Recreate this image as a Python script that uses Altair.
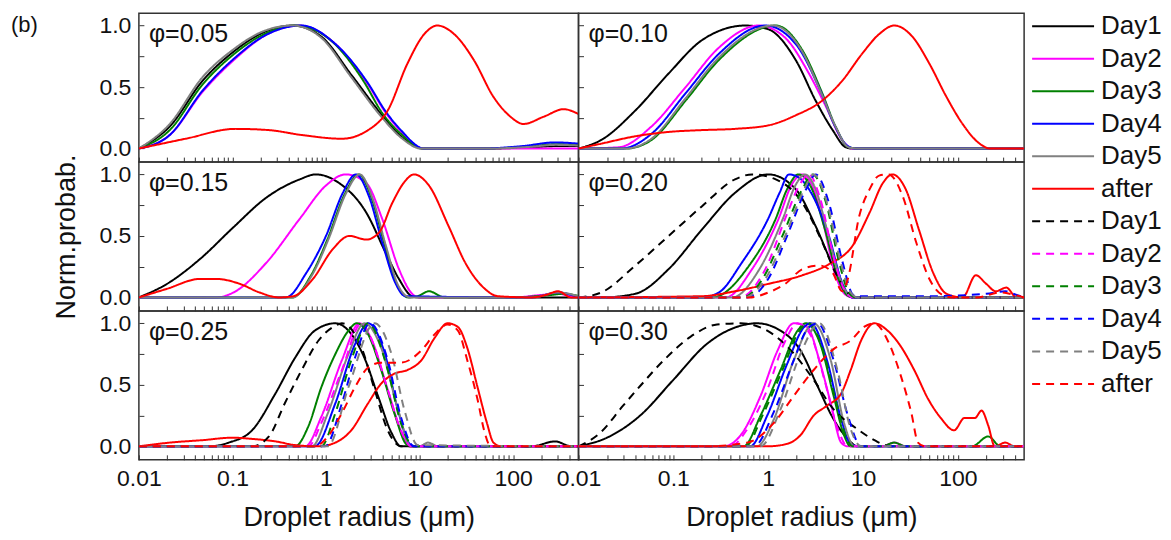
import altair as alt
import pandas as pd

FONT = "Liberation Sans"
SERIES = ["Day1", "Day2", "Day3", "Day4", "Day5", "after"]
COLORS = ["#000000", "#ff00ff", "#008000", "#0000ff", "#808080", "#ff0000"]
KEYS = ["s%02d" % i for i in range(1, 13)]
DASHES = [[1, 0]] * 6 + [[8, 6]] * 6
PHI = ["0.05", "0.10", "0.15", "0.20", "0.25", "0.30"]
X_TITLE = "Droplet radius (μm)"
Y_TITLE = "Norm.probab."
PANEL_TAG = "(b)"
X_DOMAIN = [0.01, 500]
Y_DOMAIN = [-0.11, 1.1]
Y_TICKS = [0, 0.25, 0.5, 0.75, 1.0]
X_TICKS = [round(m * 10 ** k, 6) for k in range(-2, 2) for m in range(1, 10)] + [100, 200, 300, 400]

# each curve: (log10 of droplet radius in um, normalised probability)
# phi = 0.05
P05_DAY1 = ([-2, -1.67, -1.32, -1.0, -0.68, -0.36, -0.05, 0.27, 0.59, 0.8, 1.05, 1.7, 2.2, 2.45, 2.7],
            [0, 0.18, 0.55, 0.78, 0.94, 1.0, 0.91, 0.6, 0.28, 0.1, 0.0, 0, 0.01, 0.02, 0.02])
P05_DAY2 = ([-2, -1.67, -1.32, -0.97, -0.65, -0.28, 0.1, 0.45, 0.63, 0.8, 1.05, 2.7],
            [0, 0.11, 0.46, 0.73, 0.92, 1.0, 0.85, 0.52, 0.3, 0.14, 0, 0])
P05_DAY3 = ([-2, -1.67, -1.32, -0.98, -0.66, -0.32, 0.05, 0.4, 0.6, 0.8, 1.03, 1.7, 2.2, 2.45, 2.7],
            [0, 0.15, 0.52, 0.77, 0.93, 1.0, 0.88, 0.55, 0.29, 0.12, 0.0, 0, 0.02, 0.035, 0.03])
P05_DAY4 = ([-2, -1.67, -1.32, -0.97, -0.65, -0.26, 0.1, 0.45, 0.63, 0.8, 1.05, 1.65, 2.1, 2.45, 2.7],
            [0, 0.11, 0.47, 0.74, 0.92, 1.0, 0.85, 0.53, 0.31, 0.15, 0.0, 0, 0.02, 0.05, 0.04])
P05_DAY5 = ([-2, -1.67, -1.32, -1.0, -0.68, -0.36, -0.05, 0.27, 0.59, 0.8, 1.02, 1.7, 2.2, 2.45, 2.7],
            [0, 0.2, 0.58, 0.8, 0.95, 1.0, 0.9, 0.58, 0.26, 0.09, 0.0, 0, 0.015, 0.03, 0.025])
P05_AFTER = ([-2, -1.5, -0.97, -0.61, -0.26, 0.17, 0.45, 0.66, 0.87, 1.05, 1.19, 1.37, 1.58, 1.79, 1.97, 2.11, 2.33, 2.54, 2.7],
             [0, 0.08, 0.16, 0.15, 0.11, 0.08, 0.15, 0.31, 0.69, 0.93, 1.0, 0.93, 0.72, 0.42, 0.26, 0.2, 0.26, 0.32, 0.28])

# phi = 0.10
P10_DAY1 = ([-2, -1.76, -1.40, -1.05, -0.70, -0.24, 0.0, 0.29, 0.50, 0.68, 0.82, 0.89, 2.7],
            [0, 0.07, 0.31, 0.61, 0.88, 1.0, 0.97, 0.72, 0.39, 0.15, 0.01, 0, 0])
P10_DAY2 = ([-2, -1.58, -1.23, -0.87, -0.52, -0.1, 0.18, 0.43, 0.61, 0.78, 0.89, 2.7],
            [0, 0.01, 0.18, 0.5, 0.82, 1.0, 0.9, 0.61, 0.34, 0.07, 0, 0])
P10_DAY3 = ([-2, -1.5, -1.23, -0.87, -0.52, 0.08, 0.36, 0.57, 0.71, 0.85, 0.96, 2.7],
            [0, 0.0, 0.07, 0.39, 0.72, 1.0, 0.8, 0.45, 0.18, 0.01, 0, 0])
P10_DAY4 = ([-2, -1.55, -1.23, -0.87, -0.52, -0.03, 0.3, 0.55, 0.7, 0.84, 0.93, 2.7],
            [0, 0.0, 0.12, 0.45, 0.77, 1.0, 0.84, 0.47, 0.19, 0.02, 0, 0])
P10_DAY5 = ([-2, -1.5, -1.23, -0.87, -0.52, 0.05, 0.35, 0.56, 0.71, 0.85, 0.95, 2.7],
            [0, 0, 0.08, 0.41, 0.74, 1.0, 0.8, 0.45, 0.18, 0.01, 0, 0])
P10_AFTER = ([-2, -1.76, -1.40, -1.05, -0.70, -0.35, 0.01, 0.29, 0.57, 0.78, 0.99, 1.17, 1.33, 1.52, 1.70, 1.88, 2.05, 2.23, 2.34, 2.7],
             [0, 0.04, 0.1, 0.135, 0.15, 0.16, 0.19, 0.27, 0.39, 0.55, 0.77, 0.93, 1.0, 0.91, 0.69, 0.42, 0.2, 0.04, 0, 0])

# phi = 0.15
P15_DAY1 = ([-2, -1.70, -1.35, -0.99, -0.64, -0.28, -0.11, 0.14, 0.43, 0.64, 0.78, 0.92, 1.0, 2.7],
            [0, 0.11, 0.31, 0.57, 0.81, 0.96, 1.0, 0.93, 0.69, 0.36, 0.15, 0.01, 0, 0])
P15_DAY2 = ([-2, -1.17, -0.99, -0.64, -0.28, 0.0, 0.21, 0.43, 0.60, 0.78, 0.92, 0.99, 2.0, 2.3, 2.48, 2.62, 2.7],
            [0, 0, 0.04, 0.28, 0.64, 0.91, 1.0, 0.93, 0.64, 0.23, 0.03, 0, 0, 0.02, 0.03, 0.01, 0])
P15_DAY3 = ([-2, -0.36, -0.16, 0.02, 0.2, 0.35, 0.49, 0.63, 0.76, 0.88, 0.98, 1.10, 1.27, 2.0, 2.4, 2.55, 2.7],
            [0, 0, 0.18, 0.48, 0.84, 1.0, 0.8, 0.42, 0.1, 0, 0.01, 0.05, 0, 0, 0.02, 0.03, 0.01])
P15_DAY4 = ([-2, -0.43, -0.21, 0.0, 0.18, 0.32, 0.46, 0.60, 0.74, 0.85, 2.2, 2.48, 2.7],
            [0, 0, 0.2, 0.5, 0.85, 1.0, 0.82, 0.45, 0.12, 0.01, 0, 0.04, 0])
P15_DAY5 = ([-2, -0.36, -0.15, 0.03, 0.21, 0.36, 0.5, 0.64, 0.77, 0.9, 2.2, 2.48, 2.7],
            [0, 0, 0.18, 0.48, 0.84, 1.0, 0.8, 0.42, 0.1, 0, 0, 0.04, 0.01])
P15_AFTER = ([-2, -1.70, -1.35, -1.17, -0.92, -0.71, -0.50, -0.35, -0.14, 0.07, 0.25, 0.43, 0.57, 0.71, 0.85, 0.94, 1.10, 1.31, 1.49, 1.67, 1.84, 2.2, 2.35, 2.48, 2.62, 2.7],
             [0, 0.07, 0.15, 0.15, 0.11, 0.04, 0, 0.01, 0.15, 0.39, 0.5, 0.47, 0.53, 0.77, 0.95, 1.0, 0.91, 0.58, 0.28, 0.09, 0.01, 0, 0.02, 0.05, 0, 0])

# phi = 0.20
P20_DAY1 = ([-2, -1.76, -1.40, -1.05, -0.70, -0.35, 0.0, 0.29, 0.50, 0.68, 0.82, 0.89, 2.7],
            [0, 0, 0.03, 0.23, 0.55, 0.85, 1.0, 0.88, 0.58, 0.26, 0.04, 0, 0])
P20_DAY2 = ([-2, -0.45, -0.17, 0.11, 0.25, 0.36, 0.47, 0.57, 0.71, 0.82, 0.9, 2.7],
            [0, 0, 0.23, 0.64, 0.92, 1.0, 0.9, 0.64, 0.18, 0.02, 0, 0])
P20_DAY3 = ([-2, -0.59, -0.2, 0.08, 0.2, 0.32, 0.45, 0.6, 0.74, 0.85, 0.92, 2.7],
            [0, 0, 0.26, 0.64, 0.88, 1.0, 0.9, 0.55, 0.15, 0.01, 0, 0])
P20_DAY4 = ([-2, -0.70, -0.52, -0.28, 0.0, 0.12, 0.22, 0.33, 0.43, 0.64, 0.78, 0.89, 2.7],
            [0, 0, 0.04, 0.28, 0.64, 0.85, 1.0, 0.97, 0.88, 0.5, 0.12, 0, 0])
P20_DAY5 = ([-2, -0.38, -0.1, 0.16, 0.28, 0.39, 0.5, 0.62, 0.76, 0.87, 0.95, 2.7],
            [0, 0, 0.22, 0.65, 0.9, 1.0, 0.88, 0.55, 0.15, 0.01, 0, 0])
P20_AFTER = ([-2, -0.70, -0.35, 0.0, 0.36, 0.64, 0.89, 1.07, 1.21, 1.31, 1.45, 1.59, 1.74, 1.88, 2.05, 2.19, 2.30, 2.40, 2.51, 2.62, 2.7],
             [0, 0.01, 0.05, 0.11, 0.18, 0.27, 0.42, 0.69, 0.93, 1.0, 0.88, 0.55, 0.2, 0.03, 0, 0.18, 0.11, 0.05, 0.08, 0, 0])
P20_DAY1_D = ([-2, -1.76, -1.40, -1.05, -0.70, -0.35, -0.17, 0.08, 0.36, 0.57, 0.71, 0.85, 0.92, 2.7],
              [0, 0.04, 0.26, 0.5, 0.74, 0.96, 1.0, 0.96, 0.77, 0.45, 0.2, 0.03, 0, 0])
P20_DAY2_D = ([-2, -0.3, -0.05, 0.2, 0.32, 0.43, 0.55, 0.7, 0.82, 0.9, 2.7],
              [0, 0, 0.2, 0.68, 0.9, 1.0, 0.8, 0.3, 0.04, 0, 0])
P20_DAY3_D = ([-2, -0.27, -0.06, 0.15, 0.36, 0.47, 0.61, 0.75, 0.85, 0.92, 2.7],
              [0, 0, 0.15, 0.5, 0.88, 1.0, 0.77, 0.28, 0.04, 0, 0])
P20_DAY4_D = ([-2, -0.22, 0.0, 0.2, 0.4, 0.5, 0.64, 0.78, 0.9, 0.99, 1.7, 2.3, 2.5, 2.62, 2.7],
              [0, 0, 0.15, 0.5, 0.88, 1.0, 0.77, 0.3, 0.02, 0.01, 0.01, 0.03, 0.05, 0.02, 0])
P20_DAY5_D = ([-2, -0.25, -0.03, 0.18, 0.38, 0.48, 0.62, 0.76, 0.87, 0.95, 2.7],
              [0, 0, 0.15, 0.5, 0.88, 1.0, 0.77, 0.3, 0.04, 0, 0])
P20_AFTER_D = ([-2, -0.2, 0.0, 0.18, 0.36, 0.54, 0.68, 0.78, 0.84, 0.96, 1.07, 1.17, 1.27, 1.42, 1.56, 1.70, 1.84, 1.95, 2.2, 2.45, 2.6, 2.7],
               [0, 0, 0.04, 0.11, 0.23, 0.26, 0.2, 0.05, 0.15, 0.66, 0.88, 0.99, 1.0, 0.82, 0.45, 0.15, 0.02, 0, 0, 0.04, 0.02, 0])

# phi = 0.25
P25_DAY1 = ([-2, -1.25, -1.04, -0.79, -0.54, -0.33, -0.12, 0.1, 0.24, 0.41, 0.56, 0.70, 0.80, 2.2, 2.45, 2.62, 2.7],
            [0, 0, 0.03, 0.13, 0.43, 0.72, 0.94, 1.0, 0.94, 0.72, 0.4, 0.11, 0, 0, 0.04, 0, 0])
P25_DAY2 = ([-2, -0.22, -0.05, 0.17, 0.36, 0.48, 0.66, 0.80, 0.91, 2.7],
            [0, 0, 0.24, 0.7, 1.0, 0.88, 0.46, 0.13, 0, 0])
P25_DAY3 = ([-2, -0.33, -0.19, -0.05, 0.1, 0.24, 0.33, 0.45, 0.59, 0.73, 0.87, 0.94, 2.7],
            [0, 0, 0.16, 0.48, 0.75, 0.94, 1.0, 0.91, 0.62, 0.27, 0.01, 0, 0])
P25_DAY4 = ([-2, -0.12, 0.1, 0.31, 0.45, 0.63, 0.77, 0.91, 0.98, 2.7],
            [0, 0, 0.35, 0.83, 1.0, 0.75, 0.29, 0.01, 0, 0])
P25_DAY5 = ([-2, -0.15, 0.02, 0.24, 0.41, 0.59, 0.77, 0.91, 1.0, 1.09, 1.2, 2.7],
            [0, 0, 0.27, 0.75, 1.0, 0.8, 0.3, 0, 0, 0.03, 0, 0])
P25_AFTER = ([-2, -1.67, -1.32, -1.0, -0.79, -0.54, -0.33, -0.08, 0.1, 0.27, 0.45, 0.59, 0.73, 0.87, 1.02, 1.16, 1.30, 1.41, 1.51, 1.62, 1.72, 1.79, 1.87, 2.7],
             [0, 0.03, 0.05, 0.07, 0.06, 0.04, 0.01, 0, 0.03, 0.13, 0.35, 0.51, 0.59, 0.62, 0.7, 0.88, 1.0, 0.97, 0.8, 0.48, 0.19, 0.03, 0, 0])
P25_DAY1_D = ([-2, -0.79, -0.61, -0.44, -0.26, -0.08, 0.1, 0.17, 0.38, 0.52, 0.66, 0.80, 2.7],
              [0, 0, 0.08, 0.35, 0.62, 0.86, 0.98, 1.0, 0.8, 0.46, 0.13, 0, 0])
P25_DAY2_D = ([-2, -0.19, -0.05, 0.17, 0.38, 0.48, 0.66, 0.80, 0.91, 2.7],
              [0, 0, 0.19, 0.62, 1.0, 0.88, 0.46, 0.13, 0, 0])
P25_DAY3_D = ([-2, -0.05, 0.1, 0.27, 0.45, 0.66, 0.80, 0.94, 2.7],
              [0, 0, 0.27, 0.7, 1.0, 0.62, 0.19, 0, 0])
P25_DAY4_D = ([-2, -0.01, 0.17, 0.31, 0.47, 0.66, 0.80, 0.94, 2.7],
              [0, 0, 0.35, 0.72, 1.0, 0.7, 0.24, 0, 0])
P25_DAY5_D = ([-2, 0.02, 0.24, 0.52, 0.70, 0.84, 0.98, 2.7],
              [0, 0, 0.48, 1.0, 0.75, 0.29, 0.01, 0])
P25_AFTER_D = ([-2, -0.12, 0.02, 0.17, 0.31, 0.45, 0.59, 0.80, 1.02, 1.16, 1.30, 1.41, 1.51, 1.62, 1.69, 1.76, 2.7],
               [0, 0, 0.08, 0.27, 0.48, 0.64, 0.68, 0.68, 0.78, 0.91, 0.99, 0.94, 0.7, 0.38, 0.13, 0, 0])

# phi = 0.30
P30_DAY1 = ([-2, -1.70, -1.35, -1.0, -0.65, -0.29, -0.12, 0.13, 0.34, 0.52, 0.69, 0.84, 0.94, 2.7],
            [0, 0.07, 0.25, 0.54, 0.83, 0.98, 1.0, 0.94, 0.78, 0.49, 0.22, 0.06, 0, 0])
P30_DAY2 = ([-2, -0.47, -0.29, -0.08, 0.1, 0.27, 0.41, 0.55, 0.66, 0.77, 0.84, 1.2, 1.33, 1.45, 2.7],
            [0, 0, 0.09, 0.41, 0.78, 1.0, 0.97, 0.67, 0.35, 0.03, 0, 0, 0.03, 0, 0])
P30_DAY3 = ([-2, -0.26, -0.08, 0.13, 0.31, 0.40, 0.55, 0.69, 0.80, 0.87, 1.2, 1.33, 1.45, 2.15, 2.32, 2.45, 2.7],
            [0, 0, 0.25, 0.62, 0.94, 1.0, 0.83, 0.41, 0.09, 0, 0, 0.03, 0, 0, 0.08, 0, 0])
P30_DAY4 = ([-2, -0.19, -0.01, 0.2, 0.38, 0.45, 0.62, 0.77, 0.87, 0.95, 2.7],
            [0, 0, 0.25, 0.67, 0.97, 1.0, 0.7, 0.22, 0.02, 0, 0])
P30_DAY5 = ([-2, -0.12, 0.06, 0.27, 0.48, 0.66, 0.80, 0.91, 2.7],
            [0, 0, 0.22, 0.7, 1.0, 0.7, 0.19, 0, 0])
P30_AFTER = ([-2, 0.0, 0.2, 0.34, 0.48, 0.62, 0.77, 0.87, 0.98, 1.12, 1.26, 1.40, 1.54, 1.69, 1.82, 1.96, 2.07, 2.18, 2.25, 2.32, 2.39, 2.5, 2.6, 2.7],
             [0, 0, 0.02, 0.09, 0.25, 0.33, 0.43, 0.62, 0.86, 1.0, 0.94, 0.81, 0.62, 0.38, 0.23, 0.13, 0.23, 0.23, 0.29, 0.17, 0, 0.03, 0, 0])
P30_DAY1_D = ([-2, -1.77, -1.53, -1.35, -1.10, -0.82, -0.54, -0.29, -0.01, 0.24, 0.48, 0.69, 0.94, 1.12, 1.29, 2.7],
              [0, 0.11, 0.33, 0.49, 0.7, 0.89, 0.99, 1.0, 0.94, 0.78, 0.54, 0.3, 0.14, 0.05, 0, 0])
P30_DAY2_D = ([-2, -0.4, -0.22, -0.01, 0.17, 0.31, 0.45, 0.59, 0.73, 0.84, 2.7],
              [0, 0, 0.14, 0.46, 0.84, 1.0, 0.9, 0.55, 0.15, 0, 0])
P30_DAY3_D = ([-2, -0.24, -0.06, 0.15, 0.33, 0.42, 0.57, 0.71, 0.82, 0.89, 2.7],
              [0, 0, 0.25, 0.62, 0.94, 1.0, 0.8, 0.38, 0.08, 0, 0])
P30_DAY4_D = ([-2, -0.15, 0.06, 0.27, 0.41, 0.52, 0.69, 0.84, 0.98, 2.7],
              [0, 0, 0.28, 0.7, 0.95, 1.0, 0.7, 0.25, 0, 0])
P30_DAY5_D = ([-2, -0.08, 0.13, 0.34, 0.54, 0.73, 0.87, 0.98, 2.7],
              [0, 0, 0.3, 0.75, 1.0, 0.62, 0.14, 0, 0])
P30_AFTER_D = ([-2, -0.65, -0.22, 0.06, 0.27, 0.48, 0.69, 0.87, 1.01, 1.12, 1.26, 1.40, 1.51, 1.58, 1.65, 2.7],
               [0, 0, 0.03, 0.19, 0.41, 0.62, 0.79, 0.86, 0.97, 1.0, 0.86, 0.57, 0.27, 0.03, 0, 0])

PANEL_SOLID = [
    [P05_DAY1, P05_DAY2, P05_DAY3, P05_DAY4, P05_DAY5, P05_AFTER],
    [P10_DAY1, P10_DAY2, P10_DAY3, P10_DAY4, P10_DAY5, P10_AFTER],
    [P15_DAY1, P15_DAY2, P15_DAY3, P15_DAY4, P15_DAY5, P15_AFTER],
    [P20_DAY1, P20_DAY2, P20_DAY3, P20_DAY4, P20_DAY5, P20_AFTER],
    [P25_DAY1, P25_DAY2, P25_DAY3, P25_DAY4, P25_DAY5, P25_AFTER],
    [P30_DAY1, P30_DAY2, P30_DAY3, P30_DAY4, P30_DAY5, P30_AFTER],
]
PANEL_DASHED = [
    [],
    [],
    [],
    [P20_DAY1_D, P20_DAY2_D, P20_DAY3_D, P20_DAY4_D, P20_DAY5_D, P20_AFTER_D],
    [P25_DAY1_D, P25_DAY2_D, P25_DAY3_D, P25_DAY4_D, P25_DAY5_D, P25_AFTER_D],
    [P30_DAY1_D, P30_DAY2_D, P30_DAY3_D, P30_DAY4_D, P30_DAY5_D, P30_AFTER_D],
]

LABEL_SIZE = 23
TITLE_SIZE = 27
TEXT_COLOR = "#111111"
FRAME = "#333333"


def panel_frame(i):
    rows = []
    for style, group in enumerate([PANEL_SOLID[i], PANEL_DASHED[i]]):
        for j, (lx, vals) in enumerate(group):
            key = KEYS[style * 6 + j]
            for a, b in zip(lx, vals):
                rows.append({"key": key, "x": 10 ** a, "y": b})
    return pd.DataFrame(rows)


X_LABEL_EXPR = ("abs(log(datum.value)/LN10 - round(log(datum.value)/LN10)) < 0.01 "
                "? datum.label : ''")
Y_LABEL_EXPR = ("(datum.value == 0.25 || datum.value == 0.75) ? '' : format(datum.value, '.1f')")

COLOR_ENC = alt.Color("key:N", scale=alt.Scale(domain=KEYS, range=COLORS * 2), legend=None)
DASH_ENC = alt.StrokeDash("key:N", scale=alt.Scale(domain=KEYS, range=DASHES), legend=None)


def legend_layers(x0):
    leg_df = pd.DataFrame({"idx": list(range(12)), "key": KEYS, "label": SERIES * 2})
    leg_y = alt.Y("idx:Q", scale=alt.Scale(domain=[0, 11], range=[13, 371], nice=False, zero=False),
                  axis=None)
    rules = alt.Chart(leg_df).mark_rule(strokeWidth=2).encode(
        x=alt.value(x0), x2=alt.value(x0 + 62), y=leg_y, color=COLOR_ENC, strokeDash=DASH_ENC,
    )
    texts = alt.Chart(leg_df).mark_text(
        align="left", baseline="middle", fontSize=26, font=FONT, color=TEXT_COLOR
    ).encode(x=alt.value(x0 + 69), y=leg_y, text="label:N")
    return [rules, texts]


def make_panel(i):
    row, col = divmod(i, 2)
    width = 440 if col == 0 else 446
    bottom = row == 2

    xa = dict(values=X_TICKS, tickSize=5, offset=-5, domain=False, grid=False,
              tickColor=FRAME, labelFlush=False, labelOverlap=False)
    if bottom:
        xa.update(format="~g", labelExpr=X_LABEL_EXPR, labelFontSize=LABEL_SIZE,
                  labelPadding=8, titleFontSize=TITLE_SIZE, titlePadding=14,
                  labelColor=TEXT_COLOR, titleColor=TEXT_COLOR, titleFontWeight="normal")
    else:
        xa.update(labels=False)

    ya = dict(values=Y_TICKS, tickSize=5, offset=-5, domain=False, grid=False,
              tickColor=FRAME, labelFlush=False, labelOverlap=False)
    if col == 0:
        ya.update(labelExpr=Y_LABEL_EXPR, labelFontSize=LABEL_SIZE, labelPadding=8,
                  labelColor=TEXT_COLOR, titleFontSize=TITLE_SIZE, titlePadding=18,
                  titleColor=TEXT_COLOR, titleFontWeight="normal")
    else:
        ya.update(labels=False)

    x_enc = alt.X("x:Q", scale=alt.Scale(type="log", domain=X_DOMAIN, nice=False),
                  axis=alt.Axis(**xa), title=X_TITLE if bottom else None)
    y_enc = alt.Y("y:Q", scale=alt.Scale(domain=Y_DOMAIN, nice=False, zero=False),
                  axis=alt.Axis(**ya), title=Y_TITLE if (col == 0 and row == 1) else None)

    lines = alt.Chart(panel_frame(i)).mark_line(
        strokeWidth=2, interpolate="monotone", clip=True
    ).encode(x=x_enc, y=y_enc, color=COLOR_ENC, strokeDash=DASH_ENC, detail="key:N")

    label = alt.Chart(pd.DataFrame({"t": ["φ=" + PHI[i]]})).mark_text(
        align="left", baseline="alphabetic", fontSize=25, font=FONT, color=TEXT_COLOR
    ).encode(x=alt.value(10), y=alt.value(29), text="t:N")

    layers = [lines, label]
    if i == 0:
        tag = alt.Chart(pd.DataFrame({"t": [PANEL_TAG]})).mark_text(
            align="left", baseline="alphabetic", fontSize=22, font=FONT, color=TEXT_COLOR
        ).encode(x=alt.value(-128), y=alt.value(19), text="t:N")
        layers.append(tag)
    if i == 1:
        layers += legend_layers(width + 8)
        return alt.layer(*layers).resolve_scale(y="independent").properties(width=width, height=149)

    return alt.layer(*layers).properties(width=width, height=149)


panels = [make_panel(i) for i in range(6)]
chart = alt.concat(*panels, columns=2, spacing=0, bounds="flush").properties(
    padding={"left": 2, "top": 4, "right": 0, "bottom": 0}
).configure(font=FONT).configure_view(stroke=FRAME, strokeWidth=1.5)

chart.save("out.html", embed_options={"renderer": "svg", "actions": False})
